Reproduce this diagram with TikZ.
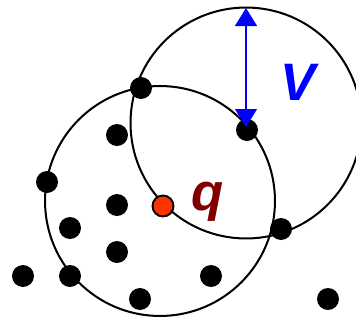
\documentclass[tikz,border=0pt]{standalone}
\usepackage{fontspec}
\setmainfont{Liberation Sans}
\usepackage{tikz}
\usetikzlibrary{arrows.meta}
\definecolor{queryred}{RGB}{255,51,0}
\definecolor{querytext}{RGB}{128,0,0}
\definecolor{rangeblue}{RGB}{0,0,255}
\tikzset{
  pt/.style={circle, fill=black, minimum size=0.44cm, inner sep=0pt},
  query/.style={circle, draw=black, line width=1.1pt, fill=queryred,
    minimum size=0.42cm, inner sep=0pt},
  ring/.style={draw=black, line width=1.15pt},
  rangearrow/.style={{Triangle[width=0.44cm,length=0.36cm]}-{Triangle[width=0.44cm,length=0.36cm]},
    line width=0.6pt, color=rangeblue},
  biglabel/.style={font=\fontsize{30}{30}\selectfont\bfseries\itshape,
    inner sep=0pt, anchor=base}
}

\begin{document}
\begin{tikzpicture}[x=0.02cm, y=-0.02cm]
  \useasboundingbox (0,0) rectangle (356,322);
  % the two range circles
  \coordinate (lowc) at (160,201);
  \coordinate (highc) at (246,123);
  \draw[ring] (lowc) circle[radius=2.3cm];
  \draw[ring] (highc) circle[radius=2.31cm];

  % data points
  \node[pt] (p1)  at (141,88)  {};
  \node[pt] (p2)  at (117,135) {};
  \node[pt] (v)   at (247,130) {};
  \node[pt] (p3)  at (47,182)  {};
  \node[pt] (p4)  at (117,205) {};
  \node[pt] (p5)  at (70,228)  {};
  \node[pt] (p6)  at (117,252) {};
  \node[pt] (p7)  at (281,229) {};
  \node[pt] (p8)  at (23,276)  {};
  \node[pt] (p9)  at (70,276)  {};
  \node[pt] (p10) at (211,276) {};
  \node[pt] (p11) at (140,299) {};
  \node[pt] (p12) at (328,299) {};
  \node[query] (q) at (163,206) {};

  % radius arrow and labels
  \coordinate (vtip) at (246,127);
  \coordinate (vtop) at (246,8);
  \draw[rangearrow] (vtip) -- (vtop);
  \node[biglabel, text=rangeblue] (vlabel) at (298,100) {V};
  \node[biglabel, text=querytext] (qlabel) at (208,210) {q};
\end{tikzpicture}
\end{document}
